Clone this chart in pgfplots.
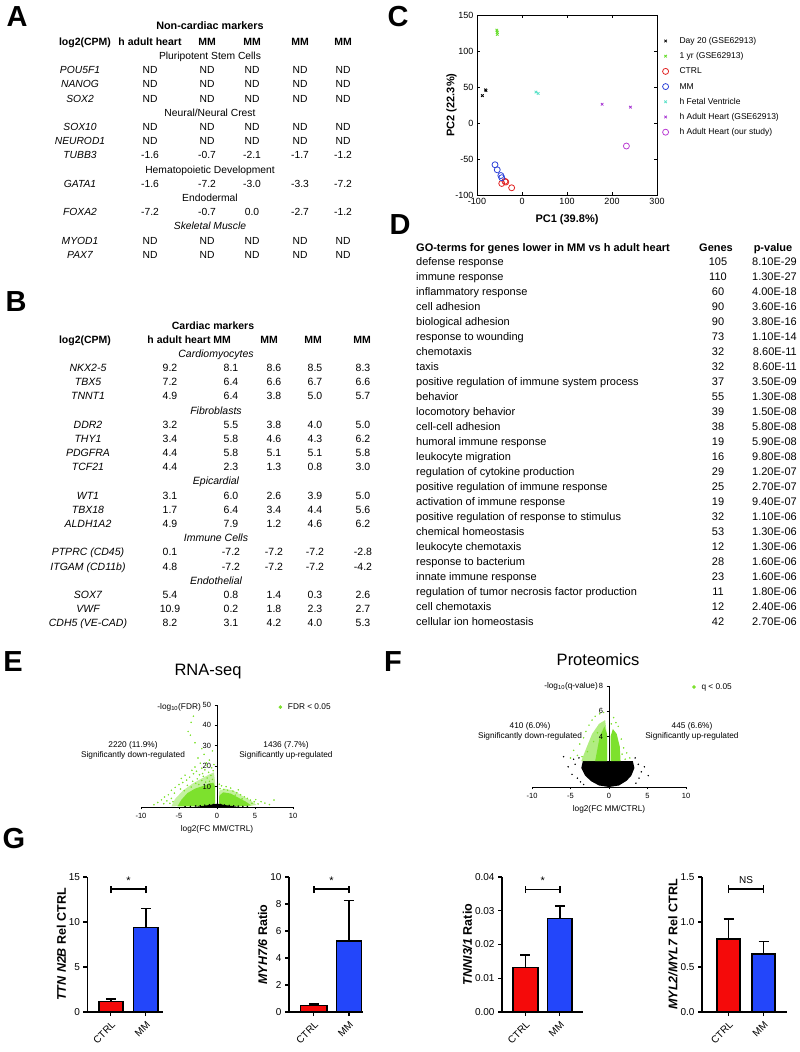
\documentclass[border=0pt]{standalone}
\usepackage{fontspec}
\setmainfont{Liberation Sans}
\usepackage{pgfplots}
\pgfplotsset{compat=1.18}

\definecolor{vgreen}{RGB}{125,225,45}
\definecolor{pcred}{RGB}{225,35,35}
\definecolor{pcblue}{RGB}{45,65,215}
\definecolor{pcgreen}{RGB}{100,220,40}
\definecolor{pccyan}{RGB}{90,225,200}
\definecolor{pcpurple}{RGB}{165,50,210}
\definecolor{pcmag}{RGB}{185,60,210}
\definecolor{barred}{RGB}{245,10,10}
\definecolor{barblue}{RGB}{35,70,250}

\newcommand{\fs}[1]{\fontsize{#1}{#1}\selectfont}

\pgfplotsset{
  /pgf/number format/assume math mode=true,
  volc/.style={scale only axis, axis on top, axis x line=bottom, axis y line=middle,
    axis line style={-, line width=0.9pt},
    xmin=-10, xmax=10, ymin=0, xtick={-10,-5,0,5,10},
    tick align=outside, major tick length=2.5pt,
    tick style={black, line width=0.8pt},
    tick label style={font=\fs{7.5}}, hide obscured x ticks=false,
    legend style={draw=none, fill=none, font=\fs{8.3}, inner sep=0pt, anchor=west,
      /tikz/every odd column/.append style={column sep=4pt}},
    legend cell align=left},
  barax/.style={scale only axis, height=135pt, ymin=0,
    axis x line=bottom, axis y line=left, axis line style={-, line width=1.3pt},
    xtick={0,1}, xticklabels={CTRL,MM},
    x tick label style={rotate=45, anchor=north east, font=\fs{10}},
    y tick label style={font=\fs{10}},
    tick align=outside, major tick length=4pt, tick style={black, line width=1.1pt},
    ylabel style={font=\bfseries\fs{12.5}, yshift=-4pt}, clip=false},
  barst/.style={ybar, bar shift=0pt, draw=black, line width=1.3pt,
    error bars/y dir=plus, error bars/y explicit,
    error bars/error bar style={line width=1.3pt, black},
    error bars/error mark options={rotate=90, mark size=5pt, line width=1.3pt, black}},
}

\tikzset{tt/.style={inner sep=0pt, text height=7pt, text depth=2pt}}

% table A: gene, h adult heart, MM x4
\newcommand{\rowA}[7]{%
  \node[tt] at (80,#1) {\itshape #2};
  \node[tt] at (150,#1) {#3};
  \node[tt] at (207,#1) {#4};
  \node[tt] at (252,#1) {#5};
  \node[tt] at (300,#1) {#6};
  \node[tt] at (343,#1) {#7};}
% table B
\newcommand{\rowB}[7]{%
  \node[tt] at (88,#1) {\itshape #2};
  \node[tt] at (170,#1) {#3};
  \node[tt] at (231,#1) {#4};
  \node[tt] at (274,#1) {#5};
  \node[tt] at (315,#1) {#6};
  \node[tt] at (363,#1) {#7};}

\begin{document}
\begin{tikzpicture}[x=1pt,y=1pt]
\useasboundingbox (0,0) rectangle (800,1052);

% ---------- text panels (pixel coordinates, y down) ----------
\begin{scope}[shift={(0,1052)}, y=-1pt]
  \foreach \l/\x/\y in {A/17/17, B/16/302, C/398/17, D/400/225, E/13/662, F/393/662, G/14/839}
    \node[font=\bfseries\fs{29}] at (\x,\y) {\l};

  % A
  \begin{scope}[font=\fs{10.3}]
    \node[tt, font=\bfseries\fs{10.8}] at (210,27) {Non-cardiac markers};
    \begin{scope}[font=\bfseries\fs{10.5}]
      \node[tt] at (85,43) {log2(CPM)};
      \node[tt] at (150,43) {h adult heart};
      \foreach \x in {207,252,300,343} \node[tt] at (\x,43) {MM};
    \end{scope}
    \node[tt] at (210,57) {Pluripotent Stem Cells};
    \rowA{71.2}{POU5F1}{ND}{ND}{ND}{ND}{ND}
    \rowA{85.4}{NANOG}{ND}{ND}{ND}{ND}{ND}
    \rowA{99.6}{SOX2}{ND}{ND}{ND}{ND}{ND}
    \node[tt] at (210,113.8) {Neural/Neural Crest};
    \rowA{128}{SOX10}{ND}{ND}{ND}{ND}{ND}
    \rowA{142.2}{NEUROD1}{ND}{ND}{ND}{ND}{ND}
    \rowA{156.4}{TUBB3}{-1.6}{-0.7}{-2.1}{-1.7}{-1.2}
    \node[tt] at (210,170.6) {Hematopoietic Development};
    \rowA{184.8}{GATA1}{-1.6}{-7.2}{-3.0}{-3.3}{-7.2}
    \node[tt] at (210,199) {Endodermal};
    \rowA{213.2}{FOXA2}{-7.2}{-0.7}{0.0}{-2.7}{-1.2}
    \node[tt] at (210,227.4) {\itshape Skeletal Muscle};
    \rowA{241.6}{MYOD1}{ND}{ND}{ND}{ND}{ND}
    \rowA{255.8}{PAX7}{ND}{ND}{ND}{ND}{ND}
  \end{scope}

  % B
  \begin{scope}[font=\fs{10.5}]
    \node[tt, font=\bfseries\fs{10.5}] at (213,327) {Cardiac markers};
    \begin{scope}[font=\bfseries\fs{10.5}]
      \node[tt] at (85,341) {log2(CPM)};
      \node[tt] at (179,341) {h adult heart};
      \foreach \x in {222,269,313,362} \node[tt] at (\x,341) {MM};
    \end{scope}
    \node[tt] at (216,355) {\itshape Cardiomyocytes};
    \rowB{369.2}{NKX2-5}{9.2}{8.1}{8.6}{8.5}{8.3}
    \rowB{383.3}{TBX5}{7.2}{6.4}{6.6}{6.7}{6.6}
    \rowB{397.5}{TNNT1}{4.9}{6.4}{3.8}{5.0}{5.7}
    \node[tt] at (216,411.7) {\itshape Fibroblasts};
    \rowB{425.9}{DDR2}{3.2}{5.5}{3.8}{4.0}{5.0}
    \rowB{440}{THY1}{3.4}{5.8}{4.6}{4.3}{6.2}
    \rowB{454.2}{PDGFRA}{4.4}{5.8}{5.1}{5.1}{5.8}
    \rowB{468.4}{TCF21}{4.4}{2.3}{1.3}{0.8}{3.0}
    \node[tt] at (216,482.5) {\itshape Epicardial};
    \rowB{496.7}{WT1}{3.1}{6.0}{2.6}{3.9}{5.0}
    \rowB{510.9}{TBX18}{1.7}{6.4}{3.4}{4.4}{5.6}
    \rowB{525}{ALDH1A2}{4.9}{7.9}{1.2}{4.6}{6.2}
    \node[tt] at (216,539.2) {\itshape Immune Cells};
    \rowB{553.4}{PTPRC (CD45)}{0.1}{-7.2}{-7.2}{-7.2}{-2.8}
    \rowB{567.6}{ITGAM (CD11b)}{4.8}{-7.2}{-7.2}{-7.2}{-4.2}
    \node[tt] at (216,581.7) {\itshape Endothelial};
    \rowB{595.9}{SOX7}{5.4}{0.8}{1.4}{0.3}{2.6}
    \rowB{610}{VWF}{10.9}{0.2}{1.8}{2.3}{2.7}
    \rowB{624.2}{CDH5 (VE-CAD)}{8.2}{3.1}{4.2}{4.0}{5.3}
  \end{scope}

  % D
  \begin{scope}[font=\fs{11}]
    \node[tt, anchor=west, font=\bfseries\fs{11}] at (416,249) {GO-terms for genes lower in MM vs h adult heart};
    \node[tt, font=\bfseries\fs{11}] at (716,249) {Genes};
    \node[tt, font=\bfseries\fs{11}] at (773,249) {p-value};
    \foreach \t/\g/\p [count=\i from 0] in {
      defense response/105/8.10E-29,
      immune response/110/1.30E-27,
      inflammatory response/60/4.00E-18,
      cell adhesion/90/3.60E-16,
      biological adhesion/90/3.80E-16,
      response to wounding/73/1.10E-14,
      chemotaxis/32/8.60E-11,
      taxis/32/8.60E-11,
      positive regulation of immune system process/37/3.50E-09,
      behavior/55/1.30E-08,
      locomotory behavior/39/1.50E-08,
      cell-cell adhesion/38/5.80E-08,
      humoral immune response/19/5.90E-08,
      leukocyte migration/16/9.80E-08,
      regulation of cytokine production/29/1.20E-07,
      positive regulation of immune response/25/2.70E-07,
      activation of immune response/19/9.40E-07,
      positive regulation of response to stimulus/32/1.10E-06,
      chemical homeostasis/53/1.30E-06,
      leukocyte chemotaxis/12/1.30E-06,
      response to bacterium/28/1.60E-06,
      innate immune response/23/1.60E-06,
      regulation of tumor necrosis factor production/11/1.80E-06,
      cell chemotaxis/12/2.40E-06,
      cellular ion homeostasis/42/2.70E-06} {
      \node[tt, anchor=west] at (416,{263+15*\i}) {\t};
      \node[tt] at (718,{263+15*\i}) {\g};
      \node[tt, anchor=east] at (797,{263+15*\i}) {\p};
    }
  \end{scope}

  % E / F texts
  \node[font=\fs{16.5}] at (208,672) {RNA-seq};
  \node[font=\fs{16.5}] at (598,660) {Proteomics};
  \begin{scope}[font=\fs{8.3}]
    \node[anchor=east, inner sep=0pt] at (201,707) {-log\textsubscript{10}(FDR)};
    \node[tt] at (133,745) {2220 (11.9\%)};
    \node[tt] at (133,755) {Significantly down-regulated};
    \node[tt] at (286,745) {1436 (7.7\%)};
    \node[tt] at (286,755) {Significantly up-regulated};
    \node[tt] at (217,829) {log2(FC MM/CTRL)};
    \node[anchor=east, inner sep=0pt] at (598,686) {-log\textsubscript{10}(q-value)};
    \node[tt] at (530,726) {410 (6.0\%)};
    \node[tt] at (530,736) {Significantly down-regulated};
    \node[tt] at (692,726) {445 (6.6\%)};
    \node[tt] at (692,736) {Significantly up-regulated};
    \node[tt] at (609,809) {log2(FC MM/CTRL)};
  \end{scope}
\end{scope}

% ---------- C: PCA ----------
\begin{axis}[at={(477pt,857pt)}, scale only axis, width=180pt, height=180pt,
  xmin=-100, xmax=300, ymin=-100, ymax=150,
  xtick={-100,0,100,200,300}, ytick={-100,-50,0,50,100,150},
  major tick length=3pt, tick style={black, line width=0.6pt},
  axis line style={line width=0.9pt},
  tick label style={font=\fs{9}},
  xlabel={PC1 (39.8\%)}, ylabel={PC2 (22.3\%)},
  label style={font=\bfseries\fs{11}},
  xlabel style={yshift=-3pt}, ylabel style={yshift=-8pt},
  legend style={at={(1.03,0.89)}, anchor=north west, draw=none, fill=none,
    font=\fs{8.5}, inner sep=0pt, row sep=3.2pt,
    nodes={text height=6.5pt, text depth=1.5pt},
    /tikz/every odd column/.append style={column sep=9pt}},
  legend cell align=left]
\addplot[only marks, mark=x, mark size=1.8pt, black, thick] coordinates {(-88,38)(-81,46)(-80,45)};
\addplot[only marks, mark=x, mark size=1.8pt, pcgreen, thick] coordinates {(-56,129)(-55,126)(-55,123)};
\addplot[only marks, mark=o, mark size=3pt, pcred, thick] coordinates {(-45,-84)(-38,-81)(-36,-82)(-23,-90)};
\addplot[only marks, mark=o, mark size=3pt, pcblue, thick] coordinates {(-60,-58)(-55,-65)(-47,-73)(-45,-76)};
\addplot[only marks, mark=x, mark size=1.8pt, pccyan, thick] coordinates {(31,43)(36,41)};
\addplot[only marks, mark=x, mark size=1.8pt, pcpurple, thick] coordinates {(178,26)(241,22)};
\addplot[only marks, mark=o, mark size=3pt, pcmag, thick] coordinates {(232,-32)};
\legend{Day 20 (GSE62913), 1 yr (GSE62913), CTRL, MM, h Fetal Ventricle, h Adult Heart (GSE62913), h Adult Heart (our study)}
\end{axis}

% ---------- E: RNA-seq volcano ----------
\begin{axis}[volc, at={(141pt,245pt)}, width=152pt, height=102pt, ymax=50,
  ytick={10,20,30,40,50}, legend style={at={(0.905,0.98)}}]
\addlegendimage{only marks, mark=*, mark size=1.6pt, vgreen}
\addlegendentry{FDR < 0.05}
% looser outer part of the clouds
\addplot[fill=vgreen, fill opacity=0.45, draw=none, forget plot] coordinates {
  (-6,0.3)(-5.5,4)(-4.5,8)(-3.2,11.5)(-2,14)(-1,16)(-0.4,17)(-0.25,12)(-0.25,1)} -- cycle;
\addplot[fill=vgreen, fill opacity=0.45, draw=none, forget plot] coordinates {
  (0.25,1)(0.3,8)(1,9)(2.2,8)(3.3,5.5)(4.5,3)(5.2,1)(4,0.3)} -- cycle;
% dense part
\addplot[fill=vgreen, draw=none, forget plot] coordinates {
  (-5.2,0.3)(-4.7,3.5)(-3.9,6.8)(-2.9,9.0)(-1.6,10.6)(-0.5,12.0)(-0.25,10)(-0.25,1.2)(-0.6,0.3)} -- cycle;
\addplot[fill=vgreen, draw=none, forget plot] coordinates {
  (0.25,0.8)(0.3,5.5)(0.8,7.2)(1.8,6.6)(2.8,4.6)(3.8,2.6)(4.5,0.8)(3,0.3)} -- cycle;
\addplot[only marks, mark=*, mark size=0.55pt, vgreen, forget plot] coordinates {
  (-3.1,44.5)(-3.4,41.5)(-3.8,37.0)(-3.5,35.2)(-2.9,31.5)(-2.5,24.0)(-2.2,21.5)
  (-1.3,20.2)(-2.0,19.0)(-1.6,18.2)(-2.7,17.5)(-1.1,17.0)(-3.1,16.3)(-2.3,15.8)
  (-0.8,15.5)(-1.8,15.0)(-3.6,14.6)(-1.3,14.2)(-2.6,13.8)(-0.6,13.5)(-4.0,13.2)
  (-2.0,13.0)(-3.2,12.6)(-1.0,12.6)(-4.5,12.0)(-2.8,11.6)(-5.0,11.0)(-3.9,10.6)
  (-5.5,9.6)(-4.8,8.8)(-6.0,8.2)(-5.6,6.8)(-6.4,6.0)(-6.9,4.9)(-6.0,4.2)(-7.3,3.5)
  (-6.6,3.0)(-7.8,2.2)(-7.0,1.6)(-6.2,1.8)(-8.3,1.1)(-5.8,2.6)
  (-1.5,12.2)(-2.4,11.0)(-3.4,9.8)(-4.3,8.0)(-0.9,11.5)(-1.9,16.4)(-0.5,17.8)
  (-0.7,19.2)(-1.4,21.6)(-1.0,23.0)(-2.9,19.6)(-3.3,18.0)(-4.2,15.6)(-4.7,14.0)
  (-0.4,20.8)(-1.7,25.8)(-0.6,27.5)(-2.0,28.6)
  (0.4,9.0)(0.9,8.6)(1.4,8.2)(2.1,7.8)(2.6,7.0)(3.1,6.0)(2.4,5.8)(3.6,5.0)(4.0,4.2)
  (3.3,4.0)(4.4,3.4)(4.9,2.6)(4.6,1.8)(5.4,1.5)(5.8,2.6)(6.3,1.9)(7.5,3.4)(6.9,1.2)
  (5.1,3.6)(1.8,9.3)(0.6,10.4)(1.2,10.0)(2.8,8.4)(0.3,11.2)};
\addplot[fill=black, draw=none, forget plot] coordinates {
  (-3,0)(-1.5,0.7)(-0.5,1.3)(0,1.6)(0.5,1.3)(1.5,0.7)(3,0)} -- cycle;
\addplot[only marks, mark=*, mark size=0.5pt, black, forget plot] coordinates {
  (-3.5,0.3)(-2.8,0.5)(-2.2,0.7)(-1.6,0.9)(-1.0,1.1)(-0.5,1.3)(0.5,1.3)(1.0,1.0)
  (1.6,0.8)(2.2,0.6)(2.8,0.4)(3.4,0.3)(4.0,0.3)(-4.2,0.2)};
\end{axis}

% ---------- F: Proteomics volcano ----------
\begin{axis}[volc, at={(532pt,265pt)}, width=154pt, height=101pt, ymax=8,
  ytick={4,6,8}, legend style={at={(1.04,0.99)}}]
\addlegendimage{only marks, mark=*, mark size=1.6pt, vgreen}
\addlegendentry{q < 0.05}
\addplot[fill=black, draw=none, forget plot] coordinates {
  (-3.4,2.05)(-3.6,1.5)(-3.1,0.9)(-2.3,0.45)(-1.3,0.12)(0,0)(1.3,0.12)(2.3,0.5)
  (2.9,0.9)(3.3,1.5)(3.1,2.05)} -- cycle;
\addplot[only marks, mark=*, mark size=0.5pt, black, forget plot] coordinates {
  (-5.9,2.4)(-5.3,1.6)(-4.8,1.0)(-4.4,1.8)(-4.1,0.7)(-3.9,2.3)(-3.7,0.4)(-4.6,2.2)
  (-3.3,0.2)(3.4,2.3)(3.8,1.8)(4.2,1.2)(3.9,0.7)(4.6,1.6)(3.5,0.3)(5.1,0.9)};
\addplot[fill=vgreen, fill opacity=0.6, draw=none, forget plot] coordinates {
  (-3.6,2.05)(-3.0,3.0)(-2.2,4.2)(-1.3,5.0)(-0.5,5.3)(-0.25,4.0)(-0.25,2.05)} -- cycle;
\addplot[fill=vgreen, draw=none, forget plot] coordinates {
  (-1.8,2.05)(-1.2,4.0)(-0.6,4.8)(-0.25,4.2)(-0.25,2.05)} -- cycle;
\addplot[fill=vgreen, draw=none, forget plot] coordinates {
  (0.2,2.05)(0.2,4.0)(0.5,4.6)(1.0,4.2)(1.4,3.2)(1.5,2.05)} -- cycle;
\addplot[only marks, mark=*, mark size=0.55pt, vgreen, forget plot] coordinates {
  (-5.0,2.3)(-4.6,2.9)(-4.1,2.5)(-3.8,3.4)(-3.3,3.9)(-3.0,4.4)(-2.6,4.9)(-2.2,5.3)
  (-1.8,5.6)(-1.2,5.8)(-0.7,5.9)(-2.8,2.8)(-2.0,3.6)(-1.5,4.3)(-3.5,2.4)(0.3,5.0)
  (0.6,5.5)(1.2,4.8)(1.6,3.8)(1.9,3.1)(2.3,2.7)(2.7,2.3)(2.1,2.2)(1.7,2.6)(0.9,5.1)};
\end{axis}

% ---------- G: bar charts ----------
\begin{axis}[barax, at={(87.5pt,40pt)}, width=75.5pt, xmin=-0.67, xmax=1.49,
  ymax=15, ytick={0,5,10,15}, ylabel={\textit{TTN N2B} Rel CTRL}]
\addplot[barst, fill=barred, bar width=0.69] coordinates {(0,1.14) +- (0,0.3)};
\addplot[barst, fill=barblue, bar width=0.69] coordinates {(1,9.37) +- (0,2.1)};
\draw[line width=1.3pt] (axis cs:0,13.2) -- (axis cs:0,14.0);
\draw[line width=1.3pt] (axis cs:1,13.2) -- (axis cs:1,14.0);
\draw[line width=1.3pt] (axis cs:0,13.65) -- (axis cs:1,13.65);
\node[font=\fs{11}] at (axis cs:0.5,14.6) {*};
\end{axis}

\begin{axis}[barax, at={(289pt,40pt)}, width=74pt, xmin=-0.71, xmax=1.4,
  ymax=10, ytick={0,2,4,6,8,10}, ylabel={\textit{MYH7/6} Ratio}]
\addplot[barst, fill=barred, bar width=0.75] coordinates {(0,0.47) +- (0,0.13)};
\addplot[barst, fill=barblue, bar width=0.7] coordinates {(1,5.26) +- (0,3.0)};
\draw[line width=1.3pt] (axis cs:0,8.8) -- (axis cs:0,9.35);
\draw[line width=1.3pt] (axis cs:1,8.8) -- (axis cs:1,9.35);
\draw[line width=1.3pt] (axis cs:0,9.1) -- (axis cs:1,9.1);
\node[font=\fs{11}] at (axis cs:0.5,9.75) {*};
\end{axis}

\begin{axis}[barax, at={(502pt,40pt)}, width=81pt, xmin=-0.68, xmax=1.67,
  ymax=0.04, ytick={0,0.01,0.02,0.03,0.04},
  yticklabel style={/pgf/number format/.cd, fixed, fixed zerofill, precision=2},
  scaled y ticks=false, ylabel={\textit{TNNI3/1} Ratio}]
\addplot[barst, fill=barred, bar width=0.72] coordinates {(0,0.0131) +- (0,0.0038)};
\addplot[barst, fill=barblue, bar width=0.7] coordinates {(1,0.0278) +- (0,0.0036)};
\draw[line width=1.3pt] (axis cs:0,0.0352) -- (axis cs:0,0.0372);
\draw[line width=1.3pt] (axis cs:1,0.0352) -- (axis cs:1,0.0372);
\draw[line width=1.3pt] (axis cs:0,0.0362) -- (axis cs:1,0.0362);
\node[font=\fs{11}] at (axis cs:0.5,0.0389) {*};
\end{axis}

\begin{axis}[barax, at={(702pt,40pt)}, width=85pt, xmin=-0.76, xmax=1.67,
  ymax=1.5, ytick={0,0.5,1,1.5},
  yticklabel style={/pgf/number format/.cd, fixed, fixed zerofill, precision=1},
  ylabel={\textit{MYL2/MYL7} Rel CTRL}]
\addplot[barst, fill=barred, bar width=0.66] coordinates {(0,0.811) +- (0,0.222)};
\addplot[barst, fill=barblue, bar width=0.66] coordinates {(1,0.644) +- (0,0.137)};
\draw[line width=1.3pt] (axis cs:0,1.32) -- (axis cs:0,1.41);
\draw[line width=1.3pt] (axis cs:1,1.32) -- (axis cs:1,1.41);
\draw[line width=1.3pt] (axis cs:0,1.365) -- (axis cs:1,1.365);
\node[font=\fs{10}] at (axis cs:0.5,1.47) {NS};
\end{axis}
\end{tikzpicture}
\end{document}
